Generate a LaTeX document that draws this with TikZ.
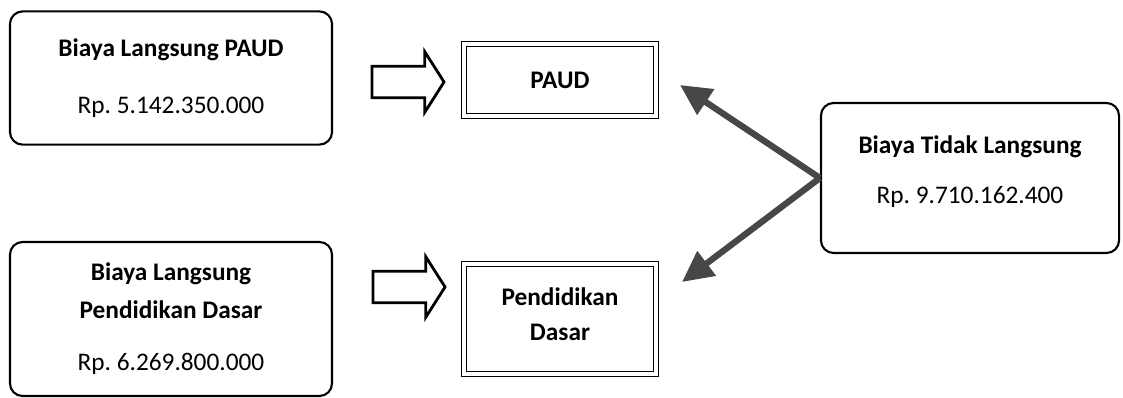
\documentclass[tikz,border=0pt]{standalone}
\usepackage{fontspec}
\setmainfont{Carlito}
\frenchspacing
\usetikzlibrary{arrows.meta,positioning,shapes.arrows}

\begin{document}
\begin{tikzpicture}[
    x=0.025cm, y=-0.025cm,
    costbox/.style={draw, rounded corners=9pt, line width=1.5pt, align=center, font=\fontsize{18}{22}\selectfont},
    levelbox/.style={draw, double, line width=1.1pt, double distance=2.6pt, align=center, font=\fontsize{18}{25}\selectfont\bfseries},
    blockarrow/.style={draw, line width=2pt, fill=white, single arrow, inner xsep=0pt, inner ysep=0.36cm, minimum height=1.8cm, single arrow head extend=0.36cm, single arrow tip angle=115, single arrow head indent=0pt},
    share/.style={line width=4.5pt, draw=black!72, -{Triangle[length=22pt,width=21pt]}},
]
\useasboundingbox (0,0) rectangle (1123,397);

% left: direct costs
\node[costbox, minimum width=8.05cm, minimum height=3.33cm] (bpaud) at (171,78) {\textbf{Biaya Langsung PAUD}\\[19pt]Rp. 5.142.350.000};
\node[costbox, minimum width=8.05cm, minimum height=3.85cm] (bdasar) at (171,319) {\textbf{Biaya Langsung}\\[5pt]\textbf{Pendidikan Dasar}\\[15pt]Rp. 6.269.800.000};

% middle: levels
\node[levelbox, minimum width=4.8cm, minimum height=1.8cm] (paud) at (560,80) {PAUD};
\node[levelbox, minimum width=4.8cm, minimum height=2.75cm] (dasar) at (560,319) {Pendidikan\\Dasar\\[-18pt]\mbox{}};

\node[blockarrow] (arA) at (403,82) {};
\node[blockarrow] (arB) at (404,287) {};

% right: indirect costs
\node[costbox, minimum width=7.45cm, minimum height=3.75cm] (tidak) at (970,178) {\textbf{Biaya Tidak Langsung}\\[13pt]Rp. 9.710.162.400\\[-10pt]\mbox{}};

\coordinate (tipA) at (680,85);
\coordinate (tipB) at (682,282);
\draw[share] (tidak.west) -- (tipA);
\draw[share] (tidak.west) -- (tipB);
\end{tikzpicture}
\end{document}
